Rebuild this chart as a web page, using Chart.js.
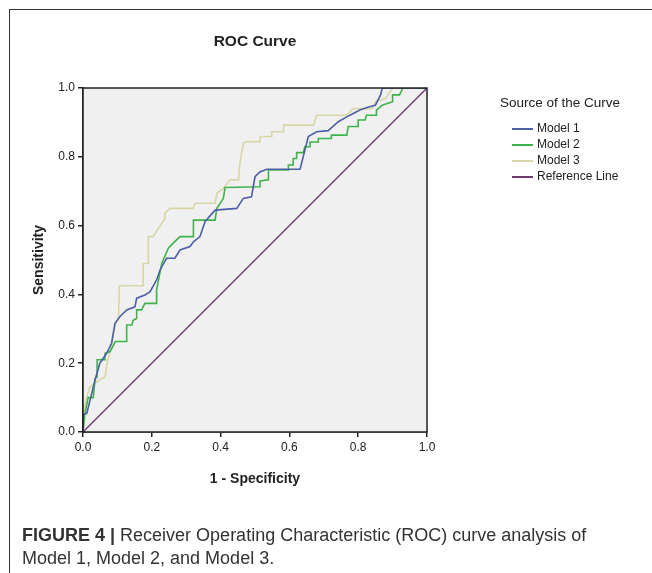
<!DOCTYPE html>
<html>
<head>
  <title>ROC Curve</title>
  <script src="https://cdn.jsdelivr.net/npm/chart.js"></script>
  <style>
    body { margin: 0; background: #fff; font-family: "Liberation Sans", Arial, sans-serif; }
    #wrap { position: relative; width: 652px; height: 573px; overflow: hidden; }
    #frame { position: absolute; left: 9px; top: 9px; width: 700px; height: 600px; border-left: 1px solid #333; border-top: 1px solid #333; }
    #myChart { position: absolute; left: 0; top: 0; }
    #titulo { position: absolute; left: 0; width: 510px; top: 32px; text-align: center; font-weight: bold; font-size: 15.5px; color: #222; }
    #leyenda { position: absolute; left: 500px; top: 95px; color: #222; }
    #leyenda .tit { font-size: 13.5px; margin-bottom: 10px; }
    #leyenda .item { font-size: 12px; height: 16px; line-height: 16px; margin-left: 12px; }
    #leyenda .item span { display: inline-block; width: 21px; height: 2px; vertical-align: middle; margin-right: 4px; }
    #pie { position: absolute; left: 22px; top: 524px; font-size: 18px; line-height: 23px; color: #333; }
  </style>
</head>
<body>
<div id="wrap">
  <div id="frame"></div>
  <canvas id="myChart" width="652" height="573"></canvas>
  <div id="titulo">ROC Curve</div>
  <div id="leyenda"></div>
  <div id="pie"><b>FIGURE 4</b> <b>|</b> Receiver Operating Characteristic (ROC) curve analysis of<br>Model 1, Model 2, and Model 3.</div>
</div>
<script>
  // Datos (1 - especificidad, sensibilidad)
  var series = ['Model 1', 'Model 2', 'Model 3', 'Reference Line'];
  var colores = ['#4d60a6', '#3fb34b', '#d8d5a6', '#6e3c6e'];

  var m1x = [0, 0, 0.011, 0.035, 0.049, 0.069, 0.083, 0.093, 0.107, 0.127, 0.151, 0.156, 0.18, 0.195, 0.214, 0.224, 0.243, 0.267, 0.282, 0.311, 0.321, 0.34, 0.355, 0.384, 0.447, 0.466, 0.49, 0.5, 0.514, 0.534, 0.631, 0.655, 0.679, 0.713, 0.742, 0.776, 0.805, 0.83, 0.85, 0.865, 0.87, 1];
  var m1y = [0, 0.05, 0.054, 0.151, 0.2, 0.229, 0.258, 0.316, 0.335, 0.355, 0.364, 0.389, 0.398, 0.408, 0.442, 0.471, 0.505, 0.505, 0.529, 0.539, 0.553, 0.568, 0.612, 0.645, 0.65, 0.679, 0.684, 0.742, 0.756, 0.764, 0.764, 0.859, 0.873, 0.876, 0.902, 0.921, 0.936, 0.945, 0.95, 0.98, 1, 1];

  var m2x = [0, 0.005, 0.015, 0.03, 0.035, 0.041, 0.041, 0.064, 0.064, 0.079, 0.094, 0.127, 0.127, 0.142, 0.146, 0.156, 0.156, 0.17, 0.18, 0.214, 0.214, 0.229, 0.248, 0.262, 0.282, 0.321, 0.321, 0.384, 0.389, 0.408, 0.413, 0.515, 0.515, 0.539, 0.539, 0.597, 0.597, 0.611, 0.611, 0.621, 0.621, 0.64, 0.645, 0.66, 0.66, 0.684, 0.684, 0.722, 0.722, 0.767, 0.771, 0.8, 0.8, 0.82, 0.824, 0.853, 0.853, 0.87, 0.9, 0.9, 0.92, 0.93, 1];
  var m2y = [0, 0.05, 0.1, 0.1, 0.155, 0.16, 0.21, 0.21, 0.229, 0.234, 0.263, 0.263, 0.311, 0.311, 0.325, 0.33, 0.355, 0.355, 0.374, 0.374, 0.413, 0.49, 0.534, 0.549, 0.568, 0.568, 0.616, 0.616, 0.65, 0.679, 0.711, 0.713, 0.73, 0.733, 0.762, 0.762, 0.776, 0.776, 0.795, 0.795, 0.812, 0.812, 0.829, 0.829, 0.843, 0.843, 0.853, 0.853, 0.863, 0.863, 0.888, 0.888, 0.907, 0.907, 0.921, 0.921, 0.936, 0.95, 0.96, 0.98, 0.98, 1, 1];

  var m3x = [0, 0, 0.01, 0.02, 0.045, 0.064, 0.07, 0.083, 0.093, 0.103, 0.106, 0.175, 0.175, 0.19, 0.19, 0.204, 0.224, 0.238, 0.238, 0.253, 0.32, 0.326, 0.384, 0.389, 0.408, 0.427, 0.452, 0.456, 0.466, 0.476, 0.515, 0.515, 0.549, 0.549, 0.583, 0.583, 0.67, 0.679, 0.766, 0.786, 0.84, 0.85, 0.88, 0.9, 1];
  var m3y = [0, 0.05, 0.1, 0.13, 0.15, 0.16, 0.2, 0.25, 0.31, 0.33, 0.425, 0.425, 0.49, 0.49, 0.568, 0.568, 0.6, 0.62, 0.636, 0.65, 0.65, 0.665, 0.665, 0.694, 0.708, 0.733, 0.733, 0.78, 0.84, 0.844, 0.844, 0.859, 0.859, 0.873, 0.873, 0.892, 0.892, 0.921, 0.921, 0.94, 0.94, 0.96, 0.97, 1, 1];

  var refX = [0, 1];
  var refY = [0, 1];

  var ticksEje = [0, 0.2, 0.4, 0.6, 0.8, 1.0];

  function puntos(xs, ys) {
    var p = [];
    for (var i = 0; i < xs.length; i++) p.push({x: xs[i], y: ys[i]});
    return p;
  }

  var datasets = [
    {label: series[0], data: puntos(m1x, m1y), borderColor: colores[0], borderWidth: 1.6},
    {label: series[1], data: puntos(m2x, m2y), borderColor: colores[1], borderWidth: 1.6},
    {label: series[2], data: puntos(m3x, m3y), borderColor: colores[2], borderWidth: 1.6},
    {label: series[3], data: puntos(refX, refY), borderColor: colores[3], borderWidth: 1.4}
  ];
  datasets.forEach(function(d) {
    d.showLine = true; d.pointRadius = 0; d.fill = false; d.tension = 0;
  });

  // Fondo gris y marco del area de trazado
  var fondo = {
    id: 'fondo',
    beforeDatasetsDraw: function(chart) {
      var a = chart.chartArea, c = chart.ctx;
      c.save();
      c.fillStyle = '#f0f0f0';
      c.fillRect(a.left, a.top, a.right - a.left, a.bottom - a.top);
      c.restore();
    },
    afterDraw: function(chart) {
      var a = chart.chartArea, c = chart.ctx;
      c.save();
      c.strokeStyle = '#222';
      c.lineWidth = 1.5;
      c.strokeRect(a.left, a.top, a.right - a.left, a.bottom - a.top);
      c.restore();
    }
  };

  var fuenteTick = {family: 'Liberation Sans', size: 12};
  var fuenteTit = {family: 'Liberation Sans', size: 14, weight: 'bold'};

  new Chart(document.getElementById('myChart').getContext('2d'), {
    type: 'scatter',
    data: {datasets: datasets},
    plugins: [fondo],
    options: {
      responsive: false,
      animation: false,
      layout: {padding: {left: 0, top: 88, right: 225, bottom: 81}},
      plugins: {legend: {display: false}, tooltip: {enabled: false}},
      scales: {
        x: {
          type: 'linear', min: 0, max: 1,
          afterBuildTicks: function(s) { s.ticks = ticksEje.map(function(v) { return {value: v}; }); },
          afterFit: function(s) { s.height = 60; },
          ticks: {callback: function(v) { return v.toFixed(1); }, color: '#222', font: fuenteTick, padding: 3, maxRotation: 0},
          grid: {drawOnChartArea: false, drawTicks: true, tickLength: 5, color: '#222', lineWidth: 1.5},
          border: {color: '#222', width: 1.5},
          title: {display: true, text: '1 - Specificity', color: '#222', font: fuenteTit, padding: {top: 0, bottom: 4}}
        },
        y: {
          type: 'linear', min: 0, max: 1,
          afterBuildTicks: function(s) { s.ticks = ticksEje.map(function(v) { return {value: v}; }); },
          afterFit: function(s) { s.width = 83; },
          ticks: {callback: function(v) { return v.toFixed(1); }, color: '#222', font: fuenteTick, padding: 3},
          grid: {drawOnChartArea: false, drawTicks: true, tickLength: 5, color: '#222', lineWidth: 1.5},
          border: {color: '#222', width: 1.5},
          title: {display: true, text: 'Sensitivity', color: '#222', font: fuenteTit, padding: {top: 31, bottom: 0}}
        }
      }
    }
  });

  // Leyenda
  var ley = document.getElementById('leyenda');
  var html = '<div class="tit">Source of the Curve</div>';
  for (var i = 0; i < series.length; i++) {
    html += '<div class="item"><span style="background:' + colores[i] + '"></span>' + series[i] + '</div>';
  }
  ley.innerHTML = html;
</script>
</body>
</html>
